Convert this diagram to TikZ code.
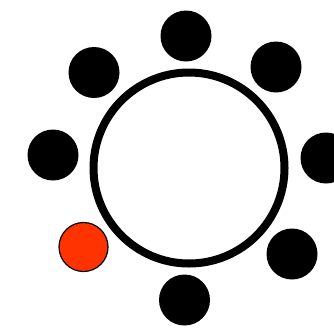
\documentclass[tikz,border=0pt]{standalone}
\definecolor{redball}{RGB}{255,51,0}
\begin{document}
\begin{tikzpicture}[x=1pt,y=-1pt,
  ball/.style={circle,fill=black,minimum size=51pt,inner sep=0pt,draw=none},
  redb/.style={circle,fill=redball,draw=black,line width=1.2pt,minimum size=49pt,inner sep=0pt},
  ring/.style={circle,draw=black,line width=8pt,minimum size=191pt,inner sep=0pt}]
\useasboundingbox (0,0) rectangle (334,327);
\node[ring] (c) at (189,168) {};
\node[ball] (n1) at (186,36) {};
\node[ball] (n2) at (276,67) {};
\node[ball] (n3) at (326,158) {};
\node[ball] (n4) at (292,254) {};
\node[ball] (n5) at (184.5,300) {};
\node[redb] (n6) at (83.5,247) {};
\node[ball] (n7) at (53,155) {};
\node[ball] (n8) at (94,72.5) {};
\end{tikzpicture}
\end{document}
